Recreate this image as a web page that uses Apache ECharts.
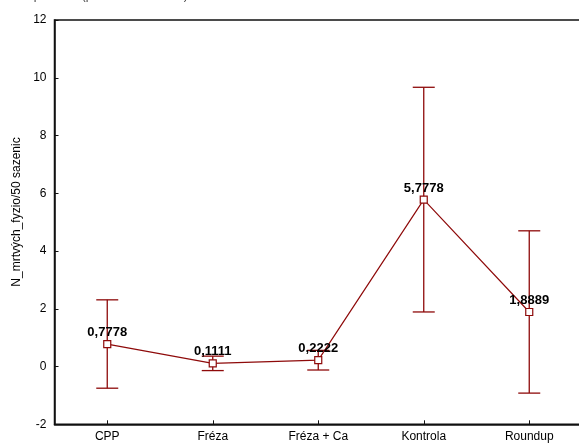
<!DOCTYPE html>
<html>
<head>
<meta charset="utf-8">
<script src="https://cdn.jsdelivr.net/npm/echarts@6/dist/echarts.min.js"></script>
<style>
  html, body { margin: 0; padding: 0; background: #fff; }
  #chart { width: 579px; height: 444px; }
</style>
</head>
<body>
<div id="chart"></div>
<script>
// Groups on the horizontal axis
const categories = ['CPP', 'Fréza', 'Fréza + Ca', 'Kontrola', 'Roundup'];
// Group means
const means = [0.7778, 0.1111, 0.2222, 5.7778, 1.8889];
// Lower and upper ends of the whiskers
const lowerBounds = [-0.75, -0.14, -0.12, 1.89, -0.92];
const upperBounds = [2.31, 0.36, 0.56, 9.67, 4.70];
// Value axis ticks
const yMin = -2, yMax = 12, yStep = 2;
const yTitle = 'N_mrtvých_fyzio/50 sazenic';

const darkRed = '#8e0a0a';
const font = 'Liberation Sans, Arial, sans-serif';

const chart = echarts.init(document.getElementById('chart'), null, { renderer: 'canvas' });

const whiskerData = categories.map((c, i) => [i, lowerBounds[i], upperBounds[i]]);

chart.setOption({
  animation: false,
  backgroundColor: '#fff',
  title: {
    text: 'Graf průměrů (průměr ± SmOdch)',
    left: 2,
    top: -15,
    textStyle: { fontSize: 12, fontWeight: 'normal', color: '#444', fontFamily: font }
  },
  graphic: [{
    type: 'text',
    x: 17,
    y: 212,
    rotation: Math.PI / 2,
    style: {
      text: yTitle,
      fill: '#000',
      font: '12px ' + font,
      align: 'center',
      verticalAlign: 'middle'
    }
  }],
  grid: {
    left: 54.5, top: 20, width: 527.5, bottom: 19.7,
    outerBoundsMode: 'none',
    containLabel: false,
    show: true, borderColor: '#111', borderWidth: 1.5, backgroundColor: 'transparent'
  },
  xAxis: {
    type: 'category',
    data: categories,
    boundaryGap: true,
    axisLine: { show: true, onZero: false, lineStyle: { color: '#111', width: 1.5 } },
    axisTick: { show: true, inside: true, alignWithLabel: true, length: 4, lineStyle: { color: '#111' } },
    axisLabel: { color: '#000', fontSize: 12, fontFamily: font, margin: 6 },
    splitLine: { show: false }
  },
  yAxis: {
    type: 'value',
    min: yMin, max: yMax, interval: yStep,
    axisLine: { show: true, lineStyle: { color: '#111', width: 1.5 } },
    axisTick: { show: true, inside: true, length: 4, lineStyle: { color: '#111' } },
    axisLabel: { color: '#000', fontSize: 12, fontFamily: font, margin: 8 },
    splitLine: { show: false }
  },
  series: [
    {
      type: 'custom',
      name: 'whiskers',
      z: 2,
      data: whiskerData,
      renderItem: function (params, api) {
        const x = api.value(0);
        const lo = api.coord([x, api.value(1)]);
        const hi = api.coord([x, api.value(2)]);
        const half = 11;
        const style = { stroke: darkRed, lineWidth: 1.3, fill: null };
        return {
          type: 'group',
          children: [
            { type: 'line', shape: { x1: lo[0], y1: lo[1], x2: hi[0], y2: hi[1] }, style: style },
            { type: 'line', shape: { x1: hi[0] - half, y1: hi[1], x2: hi[0] + half, y2: hi[1] }, style: style },
            { type: 'line', shape: { x1: lo[0] - half, y1: lo[1], x2: lo[0] + half, y2: lo[1] }, style: style }
          ]
        };
      }
    },
    {
      type: 'line',
      name: 'mean',
      z: 3,
      data: means,
      symbol: 'rect',
      symbolSize: 7,
      itemStyle: { color: '#fff', borderColor: darkRed, borderWidth: 1.2 },
      lineStyle: { color: darkRed, width: 1.2 },
      label: {
        show: true,
        position: 'top',
        distance: 1,
        color: '#000',
        fontWeight: 'bold',
        fontSize: 13,
        fontFamily: font,
        formatter: p => p.value.toFixed(4).replace('.', ',')
      }
    }
  ]
});
</script>
</body>
</html>
